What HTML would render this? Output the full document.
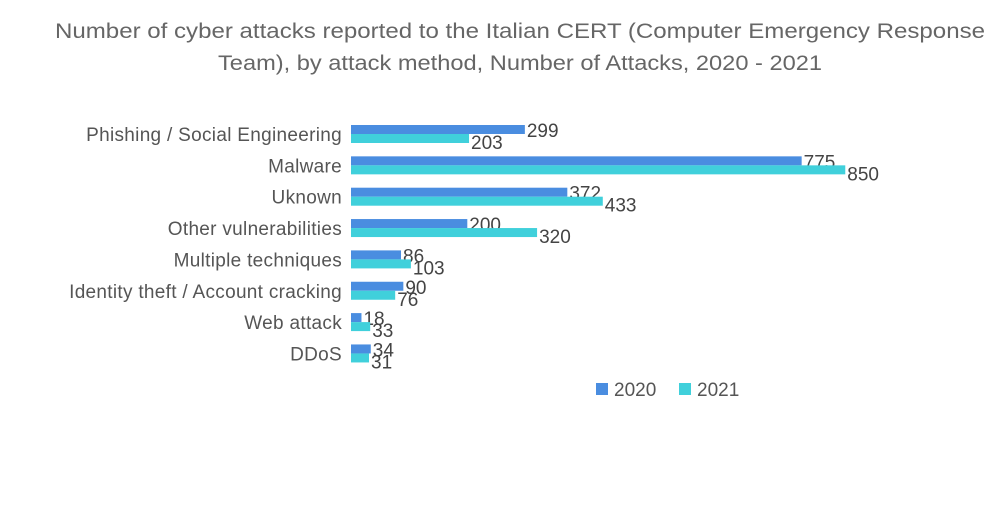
<!DOCTYPE html>
<html><head><meta charset="utf-8"><style>
body{margin:0;background:#fff;width:1000px;height:504px;overflow:hidden;font-family:"Liberation Sans",sans-serif}
</style></head><body>
<svg width="1000" height="504">
<text x="520" y="38" text-anchor="middle" font-size="21" fill="#666" textLength="930" lengthAdjust="spacingAndGlyphs">Number of cyber attacks reported to the Italian CERT (Computer Emergency Response</text>
<text x="520" y="70" text-anchor="middle" font-size="21" fill="#666" textLength="604" lengthAdjust="spacingAndGlyphs">Team), by attack method, Number of Attacks, 2020 - 2021</text>
<g id="plot"></g>
<g>
<rect x="596" y="383" width="12" height="12" fill="#4a8de0"/>
<text x="614" y="396" font-size="19" fill="#555">2020</text>
<rect x="679" y="383" width="12" height="12" fill="#40d0db"/>
<text x="697" y="396" font-size="19" fill="#555">2021</text>
</g>
</svg>
<script>
const categories=["Phishing / Social Engineering","Malware","Uknown","Other vulnerabilities","Multiple techniques","Identity theft / Account cracking","Web attack","DDoS"];
const values2020=[299,775,372,200,86,90,18,34];
const values2021=[203,850,433,320,103,76,33,31];
const x0=351,scale=0.5815,y0=125,step=31.35,bh=9;
const xs=v=>x0+v*scale;
const g=document.getElementById('plot');
const NS="http://www.w3.org/2000/svg";
function mk(t,a){const e=document.createElementNS(NS,t);for(const k in a)e.setAttribute(k,a[k]);g.appendChild(e);return e;}
categories.forEach((c,i)=>{
 const y=y0+i*step;
 const l=mk('text',{x:342,y:y+16,'text-anchor':'end','font-size':19,fill:'#555','letter-spacing':'0.3'});l.textContent=c;
 
 
 [[values2020,'#4a8de0',0],[values2021,'#40d0db',bh]].forEach(([arr,col,off],s)=>{
  const r=mk('rect',{x:x0,y:y+off,width:xs(arr[i])-x0,height:bh,fill:col});
  
  
  const t=mk('text',{x:xs(arr[i])+2,y:y+off+(s?15:12),'font-size':19,fill:'#444'});t.textContent=arr[i];
  
  
 });
});
</script>
</body></html>
